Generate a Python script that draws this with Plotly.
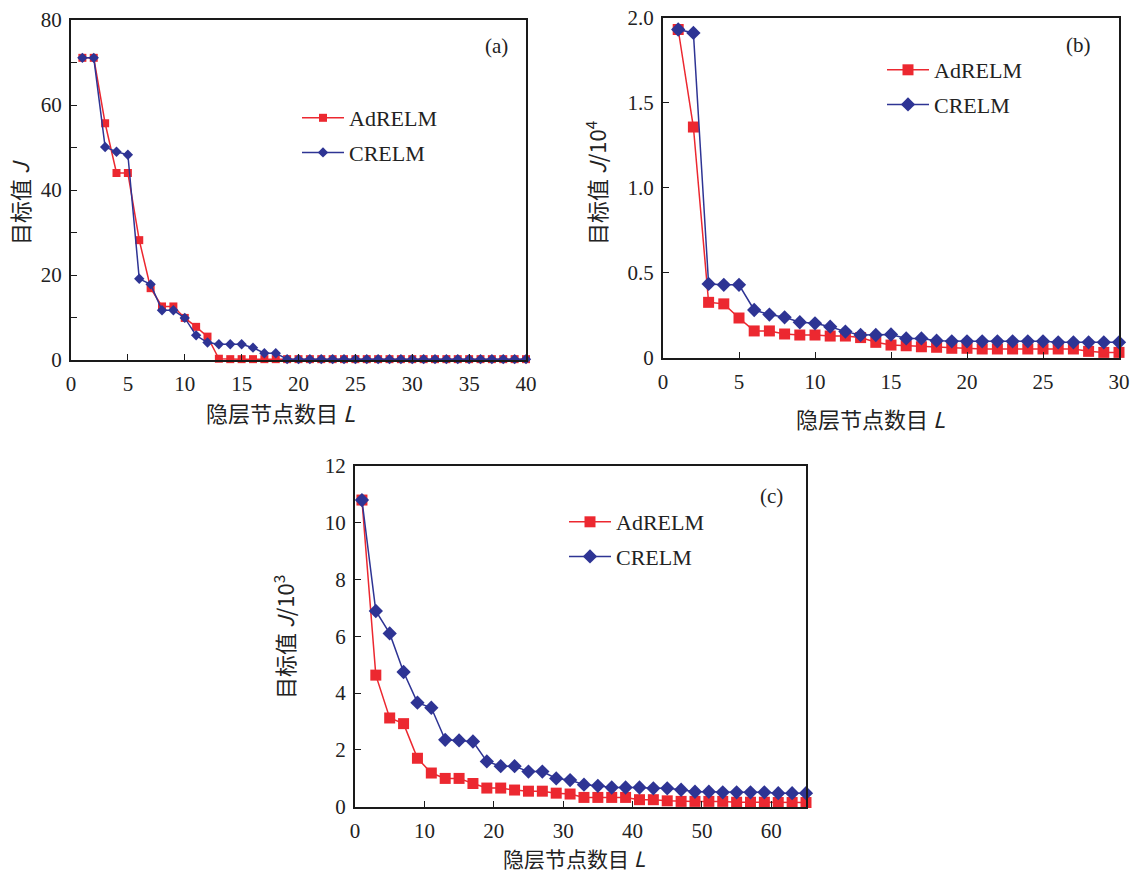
import plotly.graph_objects as go

# ---------------- data ----------------
# panel (a)
xa = list(range(1, 41))
ad_a = [71.1, 71.1, 55.7, 44.0, 44.0, 28.2, 16.9, 12.6, 12.6, 9.9,
        7.8, 5.5, 0.3, 0.2, 0.2, 0.2, 0.2, 0.2, 0.2, 0.2,
        0.2, 0.2, 0.2, 0.2, 0.2, 0.2, 0.2, 0.2, 0.2, 0.2,
        0.2, 0.2, 0.2, 0.2, 0.2, 0.2, 0.2, 0.2, 0.2, 0.2]
cr_a = [71.1, 71.1, 50.1, 49.0, 48.3, 19.1, 17.8, 11.7, 11.7, 9.9,
        5.8, 4.1, 3.7, 3.7, 3.7, 2.9, 1.6, 1.6, 0.2, 0.2,
        0.2, 0.2, 0.2, 0.2, 0.2, 0.2, 0.2, 0.2, 0.2, 0.2,
        0.2, 0.2, 0.2, 0.2, 0.2, 0.2, 0.2, 0.2, 0.2, 0.2]

# panel (b)  (units of 10^4)
xb = list(range(1, 31))
ad_b = [1.93, 1.357, 0.327, 0.318, 0.235, 0.159, 0.159, 0.141, 0.135, 0.135,
        0.129, 0.129, 0.120, 0.092, 0.076, 0.072, 0.066, 0.063, 0.057, 0.057,
        0.053, 0.053, 0.053, 0.053, 0.053, 0.053, 0.053, 0.039, 0.033, 0.033]
cr_b = [1.93, 1.91, 0.435, 0.430, 0.430, 0.282, 0.255, 0.239, 0.210, 0.204,
        0.184, 0.155, 0.135, 0.135, 0.138, 0.115, 0.115, 0.102, 0.098, 0.098,
        0.098, 0.098, 0.098, 0.098, 0.098, 0.092, 0.092, 0.092, 0.092, 0.092]

# panel (c)  (units of 10^3)
xc = list(range(1, 66, 2))
ad_c = [10.8, 4.63, 3.12, 2.92, 1.70, 1.18, 0.99, 0.99, 0.81, 0.65,
        0.65, 0.58, 0.54, 0.54, 0.47, 0.44, 0.32, 0.32, 0.32, 0.32,
        0.24, 0.24, 0.20, 0.18, 0.18, 0.18, 0.18, 0.15, 0.15, 0.15,
        0.14, 0.14, 0.14]
cr_c = [10.8, 6.89, 6.10, 4.74, 3.66, 3.48, 2.35, 2.33, 2.29, 1.59,
        1.42, 1.42, 1.23, 1.23, 0.99, 0.93, 0.77, 0.73, 0.67, 0.67,
        0.67, 0.64, 0.64, 0.59, 0.52, 0.52, 0.50, 0.50, 0.50, 0.50,
        0.47, 0.47, 0.47]

names = ["AdRELM", "CRELM"]
b_ticks = [0, 0.5, 1.0, 1.5, 2.0]
b_ticktext = ["0", "0.5", "1.0", "1.5", "2.0"]

RED = "#EC2830"
BLUE = "#2E3494"
SERIF = "Liberation Serif"
CJK = "Noto Sans CJK SC"
W, H = 1133, 871


def px(x):
    return x / W


def py(y):
    return 1 - y / H


fig = go.Figure()

panels = [
    dict(x=xa, ad=ad_a, cr=cr_a, xaxis="x", yaxis="y", legend="legend", sq=8, dm=8, g="a"),
    dict(x=xb, ad=ad_b, cr=cr_b, xaxis="x2", yaxis="y2", legend="legend2", sq=11, dm=11, g="b"),
    dict(x=xc, ad=ad_c, cr=cr_c, xaxis="x3", yaxis="y3", legend="legend3", sq=11, dm=11, g="c"),
]
for p in panels:
    fig.add_trace(go.Scatter(x=p["x"], y=p["ad"], name=names[0], mode="lines+markers",
                             line=dict(color=RED, width=1.5),
                             marker=dict(symbol="square", size=p["sq"], color=RED),
                             xaxis=p["xaxis"], yaxis=p["yaxis"], legend=p["legend"],
                             legendgroup=p["g"] + "1", cliponaxis=False))
    fig.add_trace(go.Scatter(x=p["x"], y=p["cr"], name=names[1], mode="lines+markers",
                             line=dict(color=BLUE, width=1.5),
                             marker=dict(symbol="diamond", size=p["dm"], color=BLUE),
                             xaxis=p["xaxis"], yaxis=p["yaxis"], legend=p["legend"],
                             legendgroup=p["g"] + "2", cliponaxis=False))

axis_common = dict(showline=True, mirror=True, linecolor="#1a1a1a", linewidth=2,
                   ticks="inside", ticklen=6, tickwidth=1.2, tickcolor="#1a1a1a",
                   showgrid=False, zeroline=False, automargin=False,
                   tickfont=dict(family=SERIF, size=21, color="#222"))
xstand = dict(ticklabelstandoff=4)
ystand = dict(ticklabelstandoff=3)

fig.update_layout(
    template="none",
    font=dict(family=SERIF, size=20, color="#222"),
    width=W, height=H, margin=dict(l=0, r=0, t=0, b=0, autoexpand=False),
    paper_bgcolor="white", plot_bgcolor="white", showlegend=True,
    xaxis=dict(domain=[px(71), px(526)], range=[0, 40], dtick=5, anchor="y",
               **xstand, **axis_common),
    yaxis=dict(domain=[py(360), py(20)], range=[0, 80], dtick=20, anchor="x",
               minor=dict(ticks="inside", dtick=10, ticklen=6, tickcolor="#1a1a1a"),
               **ystand, **axis_common),
    xaxis2=dict(domain=[px(663), px(1119)], range=[0, 30], dtick=5, anchor="y2",
                **xstand, **axis_common),
    yaxis2=dict(domain=[py(358), py(17.5)], range=[0, 2.0005], tickvals=b_ticks,
                ticktext=b_ticktext, anchor="x2", **ystand, **axis_common),
    xaxis3=dict(domain=[px(355), px(806)], range=[0, 65], dtick=10, anchor="y3",
                **xstand, **axis_common),
    yaxis3=dict(domain=[py(806.5), py(466)], range=[0, 12], dtick=2, anchor="x3",
                **ystand, **axis_common),
)

leg_common = dict(font=dict(family=SERIF, size=22, color="#222"), bgcolor="rgba(0,0,0,0)",
                  xanchor="left", yanchor="top", itemwidth=42, tracegroupgap=3,
                  borderwidth=0)
fig.update_layout(
    legend=dict(x=px(297), y=py(97), **leg_common),
    legend2=dict(x=px(882), y=py(49), **leg_common),
    legend3=dict(x=px(564), y=py(501), **leg_common),
)

ann = []
anchor = dict(xref="paper", yref="paper", showarrow=False, xanchor="center", yanchor="middle")
# panel labels
for t, x, y in [("(a)", 496, 46), ("(b)", 1078, 45), ("(c)", 771, 496)]:
    ann.append(dict(text=t, x=px(x), y=py(y), font=dict(family=SERIF, size=21, color="#222"),
                    **anchor))
# x titles
for x, y, s in [(280, 412, 22), (870, 418, 22), (574, 858, 21)]:
    ann.append(dict(text="隐层节点数目 <i>L</i>", x=px(x), y=py(y),
                    font=dict(family=CJK, size=s, color="#222"), **anchor))
# y titles
for t, x, y in [("目标值 <i>J</i>", 19, 203),
                ("目标值 <i>J</i>/10<sup>4</sup>", 595, 183),
                ("目标值 <i>J</i>/10<sup>3</sup>", 283, 637)]:
    ann.append(dict(text=t, x=px(x), y=py(y), textangle=-90,
                    font=dict(family=CJK, size=22, color="#222"), **anchor))
fig.update_layout(annotations=ann)

fig.write_html(
    "out.html",
    config={"displayModeBar": False},
    post_script="document.body.style.margin='0';document.body.style.overflow='hidden';",
)
